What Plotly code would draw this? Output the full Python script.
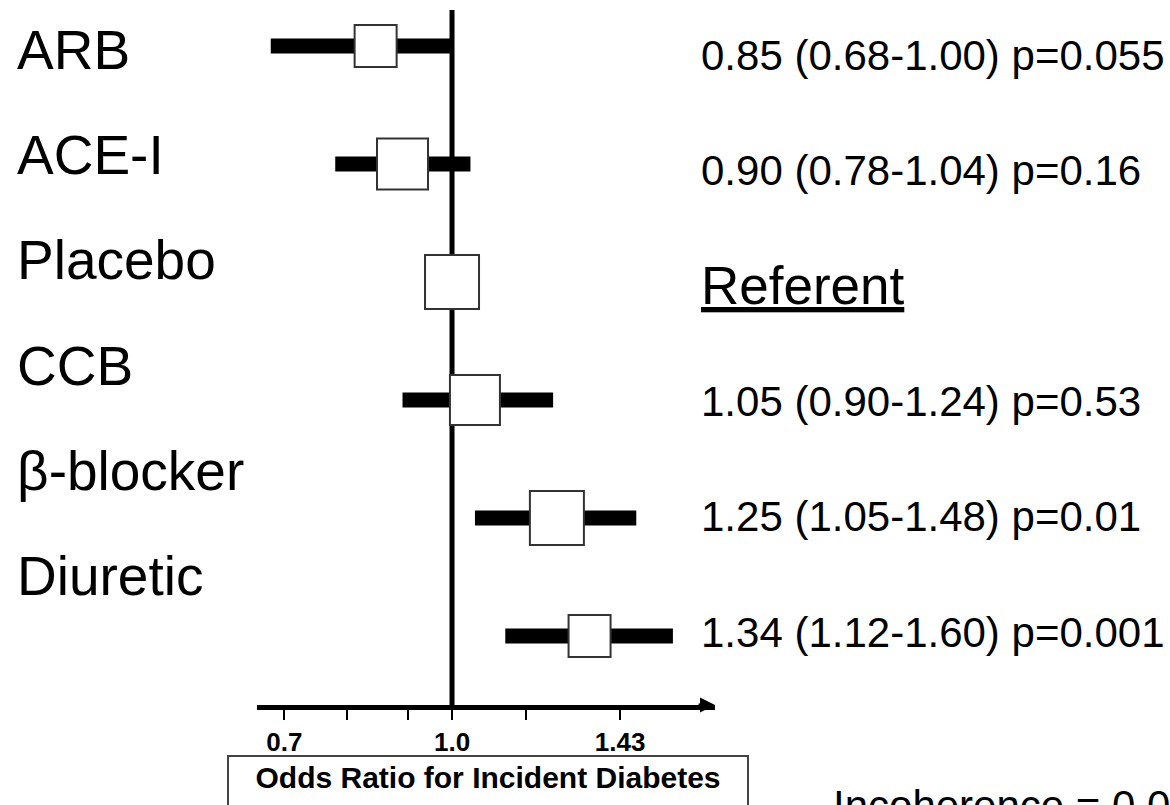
import plotly.graph_objects as go

# ---- data ----
drugs = ["ARB", "ACE-I", "Placebo", "CCB", "β-blocker", "Diuretic"]
odds_ratio = [0.85, 0.90, 1.00, 1.05, 1.25, 1.34]
ci_low = [0.68, 0.78, None, 0.90, 1.05, 1.12]
ci_high = [1.00, 1.04, None, 1.24, 1.48, 1.60]
result_text = [
    "0.85 (0.68-1.00) p=0.055",
    "0.90 (0.78-1.04) p=0.16",
    "<u>Referent</u>",
    "1.05 (0.90-1.24) p=0.53",
    "1.25 (1.05-1.48) p=0.01",
    "1.34 (1.12-1.60) p=0.001",
]
tick_values = [0.7, 0.8, 0.91, 1.0, 1.17, 1.43]
tick_labels = ["0.7", "", "", "1.0", "", "1.43"]
axis_title = "Odds Ratio for Incident Diabetes"
footer_text = "Incoherence = 0.0"

# ---- style ----
box_sizes = [42, 51, 54, 50, 54, 42]
FONT = "Liberation Sans, Arial, Helvetica, sans-serif"
W, H = 1170, 805
L, R = 257, 715          # plot area in px
T, B = 10, 705

fig = go.Figure()

# CI bars
bx, by = [], []
for d, lo, hi in zip(drugs, ci_low, ci_high):
    if lo is None:
        continue
    bx += [lo, hi, None]
    by += [d, d, None]
fig.add_trace(go.Scatter(x=bx, y=by, mode="lines",
                         line=dict(color="black", width=15),
                         hoverinfo="skip", showlegend=False))

# point estimates
fig.add_trace(go.Scatter(x=odds_ratio, y=drugs, mode="markers",
                         marker=dict(symbol="square", size=box_sizes,
                                     color="white", opacity=1,
                                     line=dict(color="#333333", width=2)),
                         showlegend=False))

# reference line at OR = 1
fig.add_shape(type="line", xref="x", yref="paper", x0=1.0, x1=1.0,
              y0=0, y1=1, line=dict(color="black", width=5), layer="below")

pw = R - L
ph = B - T


def px_to_paper_x(px):
    return (px - L) / pw


def px_to_paper_y(py):
    return (B - py) / ph


# right-hand result text (own evenly spaced hidden axis)
for i, (d, t) in enumerate(zip(drugs, result_text)):
    size = 53 if i == 2 else 42
    fig.add_annotation(x=px_to_paper_x(699), xref="paper", y=d, yref="y3",
                       text=t, showarrow=False, xanchor="left",
                       font=dict(family=FONT, size=size, color="black"))

# left-hand labels (own evenly spaced hidden axis)
for d in drugs:
    fig.add_annotation(x=px_to_paper_x(15), xref="paper", y=d, yref="y2",
                       text=d, showarrow=False, xanchor="left",
                       font=dict(family=FONT, size=55, color="black"))

# arrow head on axis
fig.add_annotation(x=1, xref="paper", y=0, yref="paper", ax=-18, ay=0,
                   text="", showarrow=True, arrowhead=2, arrowsize=1,
                   arrowwidth=3, arrowcolor="black")

# boxed axis title
fig.add_annotation(x=px_to_paper_x(488), xref="paper",
                   y=px_to_paper_y(755), yref="paper",
                   text=axis_title, showarrow=False,
                   xanchor="center", yanchor="top",
                   width=510, height=52, valign="top",
                   bordercolor="#444444", borderwidth=2, borderpad=4,
                   bgcolor="white",
                   font=dict(family=FONT, size=30, color="black",
                             weight="bold"))

# footer
fig.add_annotation(x=px_to_paper_x(831), xref="paper",
                   y=px_to_paper_y(806), yref="paper",
                   text=footer_text, showarrow=False, xanchor="left",
                   yanchor="middle",
                   font=dict(family=FONT, size=42, color="black"))

y_step = 118.0
y_step2 = 105.2
y_step3 = 115.4
fig.update_layout(
    width=W, height=H,
    margin=dict(l=L, r=W - R, t=T, b=H - B, pad=0),
    paper_bgcolor="white", plot_bgcolor="white",
    showlegend=False,
    xaxis=dict(type="log", range=[-0.1802, 0.2430],
               showline=True, linewidth=5, linecolor="black",
               ticks="outside", ticklen=10, tickwidth=2, tickcolor="black",
               tickvals=tick_values, ticktext=tick_labels,
               tickfont=dict(family=FONT, size=26, color="black",
                             weight="bold"),
               showgrid=False, zeroline=False, fixedrange=True),
    yaxis=dict(type="category", categoryorder="array", categoryarray=drugs,
               range=[5 + (B - 636) / y_step, -(46 - T) / y_step],
               visible=False, showgrid=False, zeroline=False),
    yaxis2=dict(type="category", categoryorder="array", categoryarray=drugs,
                overlaying="y",
                range=[5 + (B - 576) / y_step2, -(50 - T) / y_step2],
                visible=False, showgrid=False, zeroline=False),
    yaxis3=dict(type="category", categoryorder="array", categoryarray=drugs,
                overlaying="y",
                range=[5 + (B - 632) / y_step3, -(55 - T) / y_step3],
                visible=False, showgrid=False, zeroline=False),
)

fig.write_html("out.html")
